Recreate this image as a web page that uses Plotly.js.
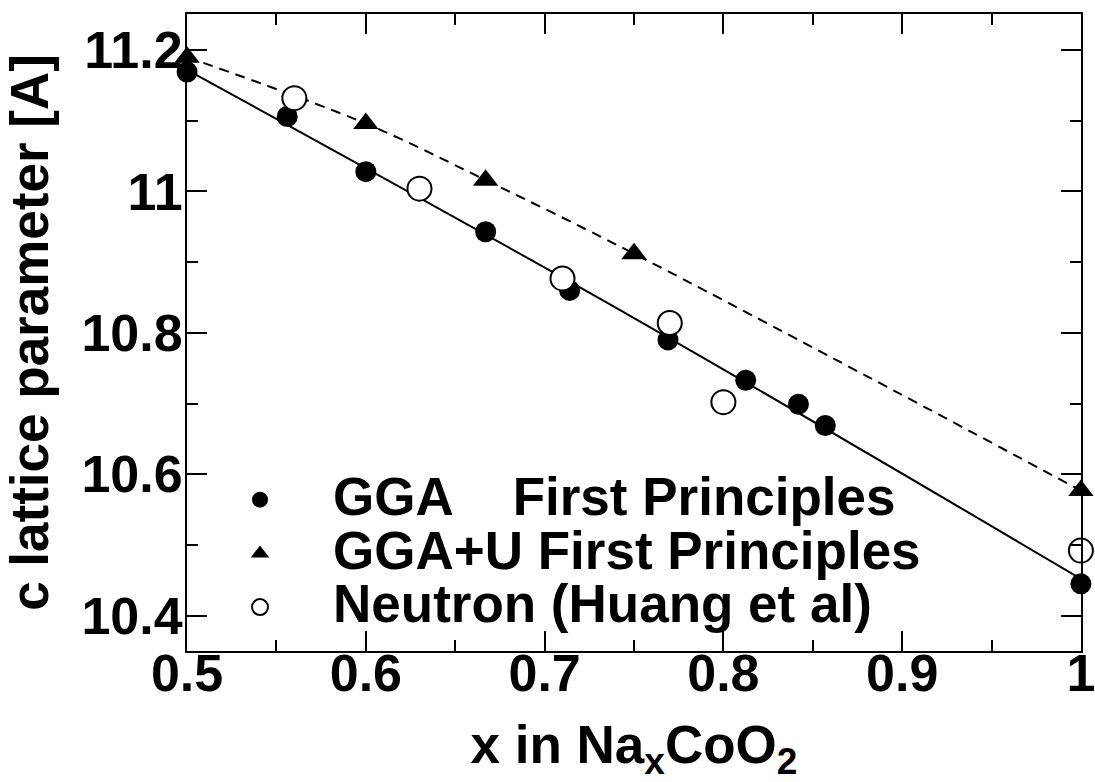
<!DOCTYPE html>
<html>
<head>
<meta charset="utf-8">
<script src="https://cdn.plot.ly/plotly-3.0.1.min.js"></script>
<style>html,body{margin:0;padding:0;background:#fff;}</style>
</head>
<body>
<div id="chart" style="width:1095px;height:782px;"></div>
<script>
// GGA first principles (filled circles)
const ggaX = [0.5, 0.556, 0.6, 0.667, 0.714, 0.769, 0.8125, 0.842, 0.857, 1.0];
const ggaY = [11.169, 11.106, 11.028, 10.943, 10.860, 10.790, 10.733, 10.699, 10.669, 10.445];
// GGA fit line (solid)
const ggaFitX = [0.5, 0.75, 1.0];
const ggaFitY = [11.172, 10.821, 10.452];
// GGA+U first principles (filled triangles)
const ggauX = [0.5, 0.6, 0.667, 0.75, 1.0];
const ggauY = [11.19, 11.096, 11.016, 10.912, 10.577];
// Neutron (Huang et al) (open circles)
const neutronX = [0.56, 0.63, 0.71, 0.77, 0.80, 1.0];
const neutronY = [11.132, 11.004, 10.877, 10.814, 10.702, 10.492];
// tick labels
const xTickVals = [0.5, 0.6, 0.7, 0.8, 0.9, 1.0];
const xTickText = ["0.5", "0.6", "0.7", "0.8", "0.9", "1"];
const yTickVals = [10.4, 10.6, 10.8, 11.0, 11.2];
const yTickText = ["10.4", "10.6", "10.8", "11", "11.2"];
const legendNames = [
  "GGA\u00A0\u00A0\u00A0\u00A0First Principles",
  "GGA+U First Principles",
  "Neutron (Huang et al)"
];

const FONT = "Liberation Sans, Arial, Helvetica, sans-serif";
const big = s => '<span style="font-size:53px">' + s + '</span>';

const traces = [
  {x: ggaFitX, y: ggaFitY, mode: 'lines', line: {color: 'black', width: 2, shape: 'spline'},
   showlegend: false, hoverinfo: 'skip', cliponaxis: false},
  {x: ggauX, y: ggauY, mode: 'lines', line: {color: 'black', width: 2, dash: '10px,7px', shape: 'spline', smoothing: 1},
   showlegend: false, hoverinfo: 'skip', cliponaxis: false},
  {x: ggaX, y: ggaY, mode: 'markers', name: big(legendNames[0]),
   marker: {symbol: 'circle', size: 21, color: 'black'}, cliponaxis: false},
  {x: ggauX, y: ggauY, mode: 'markers', name: big(legendNames[1]),
   marker: {symbol: 'triangle-up', size: 22, color: 'black'}, cliponaxis: false},
  {x: neutronX, y: neutronY, mode: 'markers', name: big(legendNames[2]),
   marker: {symbol: 'circle', size: 24, color: 'white', line: {color: 'black', width: 2}}, cliponaxis: false}
];

const axisCommon = {
  showgrid: false, zeroline: false,
  showline: true, linecolor: 'black', linewidth: 2, mirror: 'allticks',
  ticks: 'inside', ticklen: 20, tickwidth: 2, tickcolor: 'black',
  tickfont: {family: FONT, size: 52, color: 'black', weight: 'bold'},
  tickmode: 'array',
  ticklabeloverflow: 'allow'
};

const layout = {
  width: 1095, height: 782,
  margin: {l: 187, r: 14, t: 14, b: 131},
  paper_bgcolor: 'white', plot_bgcolor: 'white',
  font: {family: FONT, color: 'black'},
  xaxis: Object.assign({}, axisCommon, {
    range: [0.49995, 1.00005],
    tickvals: xTickVals, ticktext: xTickText,
    ticklabelstandoff: -24,
    minor: {tick0: 0.5, dtick: 0.05, ticks: 'inside', ticklen: 11, tickwidth: 2, tickcolor: 'black'},
    title: {text: 'x in Na<sub>x</sub>CoO<sub>2</sub>', font: {family: FONT, size: 53, color: 'black', weight: 'bold'}, standoff: 44}
  }),
  yaxis: Object.assign({}, axisCommon, {
    range: [10.35, 11.251],
    tickvals: yTickVals, ticktext: yTickText,
    ticklabelstandoff: -8,
    minor: {tick0: 10.4, dtick: 0.1, ticks: 'inside', ticklen: 11, tickwidth: 2, tickcolor: 'black'},
    title: {text: 'c lattice parameter [A]', font: {family: FONT, size: 53, color: 'black', weight: 'bold'}, standoff: 18}
  }),
  legend: {
    x: 0, xanchor: 'left', y: 0.2875, yanchor: 'top',
    bgcolor: 'rgba(0,0,0,0)', borderwidth: 0,
    font: {family: FONT, size: 39, color: 'black', weight: 'bold'},
    itemwidth: 136, tracegroupgap: 0, traceorder: 'normal'
  },
  showlegend: true
};

Plotly.newPlot('chart', traces, layout, {displayModeBar: false, staticPlot: true});
</script>
</body>
</html>
